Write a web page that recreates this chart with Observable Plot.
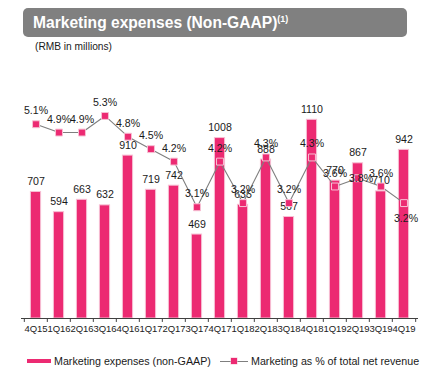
<!DOCTYPE html>
<html>
<head>
<meta charset="utf-8">
<script src="https://cdn.jsdelivr.net/npm/d3@7"></script>
<script src="https://cdn.jsdelivr.net/npm/@observablehq/plot@0.6"></script>
<style>
  html, body { margin: 0; padding: 0; background: #fff; }
  body { width: 433px; height: 372px; position: relative; overflow: hidden;
         font-family: "Liberation Sans", Arial, sans-serif; color: #1a1a1a; }
  .layer { position: absolute; left: 0; top: 0; }
  #title { position: absolute; left: 23px; top: 8px; width: 384px; height: 29px;
           background: #808080; border-radius: 5px; color: #fff; font-weight: bold;
           font-size: 15.6px; line-height: 29px; padding-left: 10px; box-sizing: border-box; }
  #title sup { font-size: 9px; vertical-align: 0; position: relative; top: -6px; }
  #subtitle { position: absolute; left: 35px; top: 41px; font-size: 10.2px; line-height: 12px; }
  .leg { position: absolute; font-size: 10.7px; line-height: 12px; top: 355px; white-space: nowrap; }
</style>
</head>
<body>
<div id="title">Marketing expenses (Non-GAAP)<sup>(1)</sup></div>
<div id="subtitle">(RMB in millions)</div>
<div id="bars" class="layer"></div>
<div id="pct" class="layer"></div>
<div id="legend"></div>
<script>
const quarters = ["4Q15","1Q16","2Q16","3Q16","4Q16","1Q17","2Q17","3Q17","4Q17","1Q18","2Q18","3Q18","4Q18","1Q19","2Q19","3Q19","4Q19"];
const expenses = [707,594,663,632,910,719,742,469,1008,635,888,567,1110,770,867,710,942];
const pctRevenue = [5.1,4.9,4.9,5.3,4.8,4.5,4.2,3.1,4.2,3.2,4.3,3.2,4.3,3.6,3.8,3.6,3.2];
const seriesNames = ["Marketing expenses (non-GAAP)", "Marketing as % of total net revenue"];

const W = 433, H = 372, ML = 21, MR = 15, MB = 54;
const step = (W - ML - MR) / quarters.length;
const pink = "#EC2A72", pinkEdge = "#F7C0D4", grey = "#7F7F7F", ink = "#1a1a1a";
const font = {fontFamily: "'Liberation Sans', Arial, sans-serif", background: "transparent", overflow: "visible"};

const rows = quarters.map((q, i) => ({q, v: expenses[i], p: pctRevenue[i], i}));

const barsPlot = Plot.plot({
  width: W, height: H, marginLeft: ML, marginRight: MR, marginTop: 0, marginBottom: MB,
  style: font,
  x: {type: "band", domain: quarters, padding: 0},
  y: {domain: [0, 1000], range: [318, 139], axis: null},
  marks: [
    Plot.barY(rows, {x: "q", y: "v", fill: pink, stroke: pinkEdge, strokeWidth: 1,
      insetLeft: 6.4, insetRight: 6.4}),
    Plot.text(rows, {x: "q", y: "v", text: d => String(d.v), fill: ink, fontSize: 10.6,
      lineAnchor: "bottom", dy: -7}),
    Plot.ruleY([0], {stroke: "#404040", strokeWidth: 1}),
    Plot.ruleX(quarters, {x: d => d, dx: -step / 2, y1: 0, y2: -22, stroke: "#404040"}),
    Plot.ruleX(quarters.slice(-1), {x: d => d, dx: step / 2, y1: 0, y2: -22, stroke: "#404040"}),
    Plot.axisX({tickSize: 0, tickPadding: 7, fontSize: 9.5, color: "#222", label: null})
  ]
});
document.getElementById("bars").appendChild(barsPlot);

const placement = {"2Q19": {dx: 3, dy: 0, anchor: "middle"}, "4Q19": {dx: 2, dy: 19, anchor: "bottom"}};
const defaultRows = rows.filter(d => !placement[d.q]);
const specialRows = rows.filter(d => placement[d.q]);

const pctPlot = Plot.plot({
  width: W, height: H, marginLeft: ML, marginRight: MR, marginTop: 0, marginBottom: MB,
  style: font,
  x: {type: "band", domain: quarters, padding: 0, axis: null},
  y: {domain: [0, 5], range: [335.4, 127.9], axis: null},
  marks: [
    Plot.line(rows, {x: "q", y: "p", stroke: grey, strokeWidth: 1.1}),
    Plot.dot(rows, {x: "q", y: "p", symbol: "square", r: 3.9, fill: pink, stroke: pinkEdge, strokeWidth: 1}),
    Plot.text(defaultRows, {x: "q", y: "p", text: d => d.p.toFixed(1) + "%", fill: ink, fontSize: 10.6,
      lineAnchor: "bottom", dy: -10}),
    ...specialRows.map(d => Plot.text([d], {x: "q", y: "p", text: r => r.p.toFixed(1) + "%", fill: ink,
      fontSize: 10.6, lineAnchor: placement[d.q].anchor, dx: placement[d.q].dx, dy: placement[d.q].dy}))
  ]
});
document.getElementById("pct").appendChild(pctPlot);

// legend
const legend = document.getElementById("legend");
legend.innerHTML = `
  <div style="position:absolute;left:27px;top:359px;width:24px;height:4px;background:${pink}"></div>
  <div class="leg" style="left:54px">${seriesNames[0]}</div>
  <div style="position:absolute;left:220px;top:360.5px;width:28px;height:1px;background:${grey}"></div>
  <div style="position:absolute;left:231px;top:358px;width:6px;height:6px;background:${pink};box-shadow:0 0 0 0.5px ${pinkEdge}"></div>
  <div class="leg" style="left:251px">${seriesNames[1]}</div>
`;
</script>
</body>
</html>
